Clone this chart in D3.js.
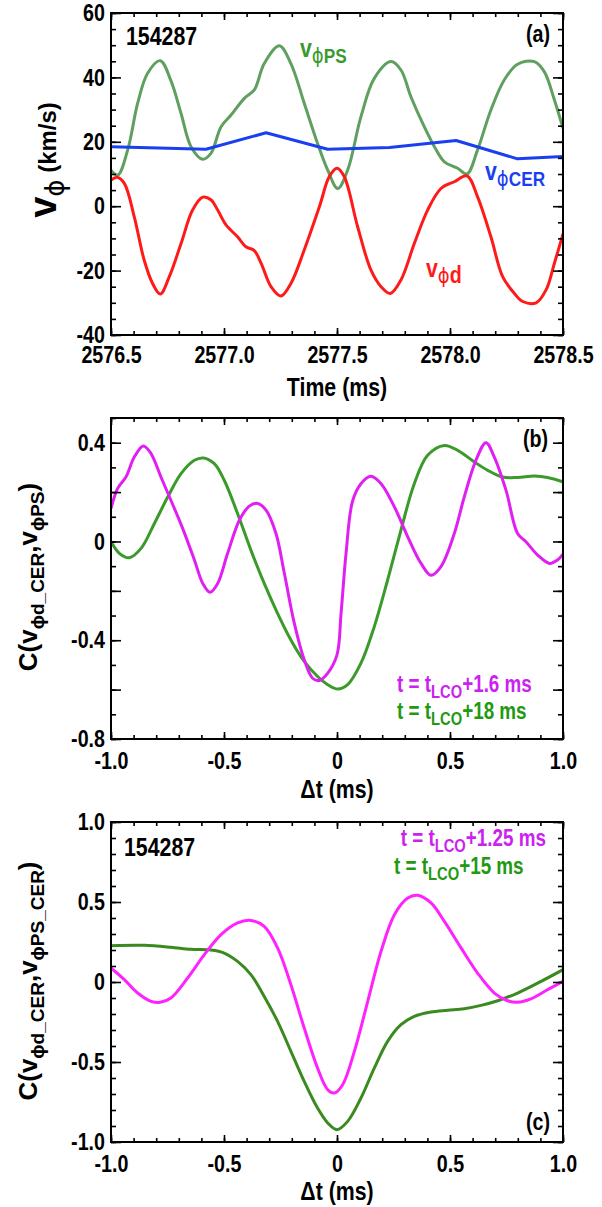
<!DOCTYPE html>
<html>
<head>
<meta charset="utf-8">
<script src="https://cdn.jsdelivr.net/npm/d3@7"></script>
<style>
body { margin: 0; background: #fff; }
text { font-family: "Liberation Sans", Arial, sans-serif; font-weight: bold; }
</style>
</head>
<body>
<script>
// panel (a): velocities vs time
var tPS = [2576.500, 2576.530, 2576.574, 2576.618, 2576.662, 2576.718, 2576.765, 2576.810, 2576.854, 2576.906,
           2576.942, 2576.987, 2577.031, 2577.090, 2577.134, 2577.178, 2577.245, 2577.296, 2577.355, 2577.414,
           2577.459, 2577.503, 2577.547, 2577.606, 2577.665, 2577.739, 2577.783, 2577.827, 2577.886, 2577.931,
           2577.975, 2578.034, 2578.075, 2578.122, 2578.181, 2578.240, 2578.299, 2578.373, 2578.417, 2578.462, 2578.500];
var vPS = [11.2, 9.7, 17.5, 32, 41.3, 45.2, 39, 28.8, 18.5, 14.6,
           16.4, 24.7, 28.3, 33.5, 36.1, 44.3, 49.8, 44.3, 32, 19.5,
           11.2, 5.5, 11.2, 27.8, 39.7, 44.9, 42.3, 34, 24.7, 18.5,
           13.8, 11.8, 10, 17.5, 29.9, 39.2, 44.1, 44.9, 41.8, 33, 24.2];

var tCER = [2576.500, 2576.920, 2577.186, 2577.459, 2577.732, 2578.027, 2578.299, 2578.500];
var vCER = [18.5, 17.7, 22.8, 17.7, 18.2, 20.4, 14.7, 15.4];

var tD = [2576.500, 2576.527, 2576.559, 2576.603, 2576.647, 2576.684, 2576.718, 2576.758, 2576.810, 2576.861,
          2576.906, 2576.942, 2576.972, 2577.009, 2577.060, 2577.097, 2577.134, 2577.164, 2577.208, 2577.252,
          2577.296, 2577.355, 2577.422, 2577.466, 2577.500, 2577.532, 2577.591, 2577.650, 2577.695, 2577.736,
          2577.783, 2577.842, 2577.901, 2577.960, 2578.019, 2578.075, 2578.122, 2578.181, 2578.233, 2578.285,
          2578.322, 2578.381, 2578.425, 2578.462, 2578.500];
var vD = [8.1, 9.0, 7.1, -3.3, -16.8, -24, -27.3, -21.9, -11.6, -1.2,
          2.8, 2.0, -1.2, -5.8, -9.5, -12.6, -13.8, -17.7, -25, -27.9,
          -24, -13.6, -0.2, 9.2, 11.8, 9.2, -6.3, -19.8, -25, -27.1,
          -22.9, -11.6, -1.2, 5.5, 7.6, 9.4, 2.9, -9.5, -21.9, -27.1,
          -29.6, -30, -26, -17.7, -8.6];

// panel (b): correlation vs lag
var dtB1 = [-1.000, -0.971, -0.934, -0.897, -0.857, -0.823, -0.779, -0.735, -0.683, -0.631,
            -0.594, -0.562, -0.528, -0.484, -0.432, -0.388, -0.351, -0.314, -0.270, -0.233,
            -0.189, -0.145, -0.108, -0.078, -0.041, 0.000, 0.018, 0.040, 0.069, 0.106,
            0.150, 0.195, 0.254, 0.313, 0.372, 0.416, 0.460, 0.519, 0.563, 0.615,
            0.659, 0.696, 0.748, 0.799, 0.836, 0.888, 0.940, 0.976, 1.000];
var cB1 = [0.133, 0.214, 0.261, 0.342, 0.387, 0.356, 0.261, 0.167, 0.053, -0.075,
           -0.17, -0.206, -0.17, -0.048, 0.086, 0.143, 0.154, 0.127, 0.032, -0.129,
           -0.331, -0.479, -0.554, -0.563, -0.533, -0.459, -0.291, -0.048, 0.164, 0.234,
           0.264, 0.234, 0.140, 0.019, -0.089, -0.137, -0.102, 0.032, 0.180, 0.329,
           0.400, 0.342, 0.207, 0.032, -0.001, -0.055, -0.089, -0.075, -0.051];

var dtB2 = [-1.000, -0.963, -0.919, -0.867, -0.808, -0.749, -0.690, -0.631, -0.590, -0.543,
            -0.499, -0.440, -0.381, -0.322, -0.263, -0.204, -0.145, -0.086, -0.041, 0.003,
            0.047, 0.106, 0.165, 0.224, 0.283, 0.342, 0.401, 0.475, 0.534, 0.608,
            0.667, 0.733, 0.799, 0.873, 0.932, 1.000];
var cB2 = [0.000, -0.048, -0.066, -0.028, 0.073, 0.180, 0.275, 0.329, 0.338, 0.315,
           0.248, 0.113, -0.035, -0.170, -0.291, -0.399, -0.486, -0.547, -0.580, -0.598,
           -0.580, -0.493, -0.345, -0.156, 0.046, 0.234, 0.349, 0.389, 0.369, 0.322,
           0.288, 0.261, 0.259, 0.265, 0.259, 0.241];

// panel (c)
var dtC1 = [-1.000, -0.941, -0.882, -0.823, -0.782, -0.735, -0.661, -0.587, -0.513, -0.440,
            -0.381, -0.322, -0.263, -0.204, -0.145, -0.086, -0.041, -0.012, 0.025, 0.077,
            0.136, 0.195, 0.254, 0.313, 0.357, 0.416, 0.475, 0.549, 0.622, 0.696,
            0.755, 0.799, 0.858, 0.932, 1.000];
var cC1 = [0.088, 0.015, -0.069, -0.121, -0.127, -0.100, 0.025, 0.171, 0.296, 0.369,
           0.385, 0.348, 0.213, -0.017, -0.288, -0.538, -0.673, -0.694, -0.642, -0.433,
           -0.121, 0.192, 0.421, 0.525, 0.542, 0.494, 0.379, 0.213, 0.056, -0.069,
           -0.117, -0.127, -0.106, -0.048, 0.004];

var dtC2 = [-1.000, -0.853, -0.735, -0.646, -0.558, -0.499, -0.440, -0.381, -0.322, -0.263,
            -0.204, -0.145, -0.086, -0.041, 0.000, 0.047, 0.106, 0.165, 0.224, 0.283,
            0.342, 0.416, 0.490, 0.563, 0.637, 0.711, 0.799, 0.903, 1.000];
var cC2 = [0.227, 0.229, 0.217, 0.204, 0.200, 0.181, 0.129, 0.046, -0.090, -0.246,
           -0.433, -0.621, -0.788, -0.881, -0.923, -0.871, -0.725, -0.538, -0.371, -0.267,
           -0.215, -0.188, -0.177, -0.167, -0.146, -0.117, -0.069, 0.004, 0.077];

// tick labels
var xLabA = {2576.5: '2576.5', 2577: '2577.0', 2577.5: '2577.5', 2578: '2578.0', 2578.5: '2578.5'};
var yLabA = {60: '60', 40: '40', 20: '20', 0: '0', '-20': '-20', '-40': '-40'};
var xLabBC = {'-1': '-1.0', '-0.5': '-0.5', 0: '0', 0.5: '0.5', 1: '1.0'};
var yLabB = {0.4: '0.4', 0: '0', '-0.4': '-0.4', '-0.8': '-0.8'};
var yLabC = {1: '1.0', 0.5: '0.5', 0: '0', '-0.5': '-0.5', '-1': '-1.0'};

var SX = 0.82;   // narrow lettering
var X0 = 111, X1 = 563;
var PHI = '\u03D5';

var svg = d3.select('body').append('svg').attr('width', 602).attr('height', 1207);

function steps(a, b, s) {
    var out = [];
    for (var i = 0; a + i * s <= b + 1e-9; i++) out.push(+(a + i * s).toFixed(4));
    return out;
}

function axes(x, y, xMaj, xMin, yMaj, yMin, xLab, yLab, xPad) {
    var yb = y.range()[0], yt = y.range()[1];
    function clean(g) { g.select('.domain').remove(); g.selectAll('line').attr('stroke', '#000').attr('stroke-width', 1.6); }
    function fmt(lab) { return function (d) { var k = String(+d.toFixed(4)); return lab[k] !== undefined ? lab[k] : ''; }; }

    svg.append('g').attr('transform', 'translate(0,' + yb + ')')
        .call(d3.axisBottom(x).tickValues(xMin).tickSize(-4).tickFormat('')).call(clean);
    svg.append('g').attr('transform', 'translate(0,' + yt + ')')
        .call(d3.axisTop(x).tickValues(xMin).tickSize(-4).tickFormat('')).call(clean);
    svg.append('g').attr('transform', 'translate(' + X0 + ',0)')
        .call(d3.axisLeft(y).tickValues(yMin).tickSize(-5).tickFormat('')).call(clean);
    svg.append('g').attr('transform', 'translate(' + X1 + ',0)')
        .call(d3.axisRight(y).tickValues(yMin).tickSize(-5).tickFormat('')).call(clean);

    var bx = svg.append('g').attr('transform', 'translate(0,' + yb + ')')
        .call(d3.axisBottom(x).tickValues(xMaj).tickSize(-7).tickPadding(xPad).tickFormat(fmt(xLab))).call(clean);
    svg.append('g').attr('transform', 'translate(0,' + yt + ')')
        .call(d3.axisTop(x).tickValues(xMaj).tickSize(-7).tickFormat('')).call(clean);
    var ly = svg.append('g').attr('transform', 'translate(' + X0 + ',0)')
        .call(d3.axisLeft(y).tickValues(yMaj).tickSize(-10).tickPadding(6).tickFormat(fmt(yLab))).call(clean);
    svg.append('g').attr('transform', 'translate(' + X1 + ',0)')
        .call(d3.axisRight(y).tickValues(yMaj).tickSize(-10).tickFormat('')).call(clean);

    [bx, ly].forEach(function (g) {
        g.selectAll('text')
            .attr('font-size', 24).attr('font-family', '"Liberation Sans", Arial, sans-serif')
            .attr('font-weight', 'bold').attr('fill', '#000')
            .attr('x', function () { return (+this.getAttribute('x') || 0) / SX; })
            .attr('transform', 'scale(' + SX + ',1)');
    });

    svg.append('rect').attr('x', X0).attr('y', yt).attr('width', X1 - X0).attr('height', yb - yt)
        .attr('fill', 'none').attr('stroke', '#000').attr('stroke-width', 2);
}

function curve(x, y, xs, ys, color, clip, linear) {
    var line = d3.line()
        .x(function (d, i) { return x(xs[i]); })
        .y(function (d) { return y(d); })
        .curve(linear ? d3.curveLinear : d3.curveCatmullRom.alpha(0.5));
    svg.append('path').datum(ys).attr('d', line).attr('fill', 'none')
        .attr('stroke', color).attr('stroke-width', 3).attr('stroke-linejoin', 'round')
        .attr('clip-path', 'url(#' + clip + ')');
}

function clipRect(id, x, y) {
    svg.append('clipPath').attr('id', id).append('rect')
        .attr('x', X0).attr('y', y.range()[1]).attr('width', X1 - X0).attr('height', y.range()[0] - y.range()[1]);
}

// horizontal text made of parts [string, size, dy, isPhi]
function note(x, y, anchor, color, parts) {
    var t = svg.append('text').attr('transform', 'translate(' + x + ',' + y + ') scale(' + SX + ',1)')
        .attr('text-anchor', anchor).attr('fill', color);
    parts.forEach(function (p) {
        var s = t.append('tspan').text(p[0]).attr('font-size', p[1]).attr('dy', p[2] || 0);
        if (p[3]) s.attr('font-family', '"DejaVu Sans", sans-serif').attr('font-weight', 'normal');
    });
    return t;
}

function vlabel(x, y, parts) {
    var t = svg.append('text').attr('transform', 'translate(' + x + ',' + y + ') rotate(-90)')
        .attr('text-anchor', 'middle').attr('fill', '#000');
    parts.forEach(function (p) {
        var s = t.append('tspan').text(p[0]).attr('font-size', p[1]).attr('dy', p[2] || 0);
        if (p[3]) s.attr('font-family', '"DejaVu Sans", sans-serif').attr('font-weight', 'normal');
    });
}

// ---------- (a)
var xa = d3.scaleLinear().domain([2576.5, 2578.5]).range([X0, X1]);
var ya = d3.scaleLinear().domain([-40, 60]).range([335, 13]);
clipRect('ca', xa, ya);
curve(xa, ya, tPS, vPS, '#5f9f5f', 'ca');
curve(xa, ya, tCER, vCER, '#1a3ff0', 'ca', true);
curve(xa, ya, tD, vD, '#ff1a1a', 'ca');
axes(xa, ya, steps(2576.5, 2578.5, 0.5), steps(2576.5, 2578.5, 0.1), steps(-40, 60, 20), steps(-40, 60, 5), xLabA, yLabA, 11);

note(126, 45, 'start', '#000', [['154287', 26]]);
note(550, 42, 'end', '#000', [['(a)', 24]]);
note(300, 57, 'start', '#3a9a30', [['v', 26], [PHI, 22, 6, true], ['PS', 21]]);
note(485, 180, 'start', '#1a3ff0', [['v', 26], [PHI, 22, 6, true], ['CER', 21]]);
note(426, 277, 'start', '#ff1a1a', [['v', 26], [PHI, 22, 6, true], ['d', 24]]);
note(337, 396, 'middle', '#000', [['Time (ms)', 26]]);
vlabel(56, 160, [['v', 38], [PHI, 26, 8, true], [' (km/s)', 24, -8]]);

// ---------- (b)
var xb = d3.scaleLinear().domain([-1, 1]).range([X0, X1]);
var yb = d3.scaleLinear().domain([-0.8, 0.5]).range([739, 418]);
clipRect('cb', xb, yb);
curve(xb, yb, dtB2, cB2, '#3a9a2a', 'cb');
curve(xb, yb, dtB1, cB1, '#e020f0', 'cb');
axes(xb, yb, steps(-1, 1, 0.5), steps(-1, 1, 0.1), steps(-0.8, 0.4, 0.2), steps(-0.8, 0.5, 0.1), xLabBC, yLabB, 13);

note(548, 447, 'end', '#000', [['(b)', 24]]);
note(397, 692, 'start', '#cc22ee', [['t = t', 23], ['LCO', 18, 6], ['+1.6 ms', 23, -6]]);
note(397, 719, 'start', '#229911', [['t = t', 23], ['LCO', 18, 6], ['+18 ms', 23, -6]]);
note(337, 798, 'middle', '#000', [['\u0394t (ms)', 26]]);
vlabel(37, 577, [['C(v', 26], [PHI + 'd_CER', 19, 7], [',v', 26, -7], [PHI + 'PS', 19, 7], [')', 26, -7]]);

// ---------- (c)
var xc = d3.scaleLinear().domain([-1, 1]).range([X0, X1]);
var yc = d3.scaleLinear().domain([-1, 1]).range([1142, 822]);
clipRect('cc', xc, yc);
curve(xc, yc, dtC2, cC2, '#3a8a1f', 'cc');
curve(xc, yc, dtC1, cC1, '#ff22ff', 'cc');
axes(xc, yc, steps(-1, 1, 0.5), steps(-1, 1, 0.1), steps(-1, 1, 0.5), steps(-1, 1, 0.1), xLabBC, yLabC, 13);

note(124, 856, 'start', '#000', [['154287', 26]]);
note(546, 846, 'end', '#cc22ee', [['t = t', 23], ['LCO', 18, 6], ['+1.25 ms', 23, -6]]);
note(394, 874, 'start', '#229911', [['t = t', 23], ['LCO', 18, 6], ['+15 ms', 23, -6]]);
note(550, 1130, 'end', '#000', [['(c)', 24]]);
note(337, 1200, 'middle', '#000', [['\u0394t (ms)', 26]]);
vlabel(37, 981, [['C(v', 26], [PHI + 'd_CER', 19, 7], [',v', 26, -7], [PHI + 'PS_CER', 19, 7], [')', 26, -7]]);
</script>
</body>
</html>
